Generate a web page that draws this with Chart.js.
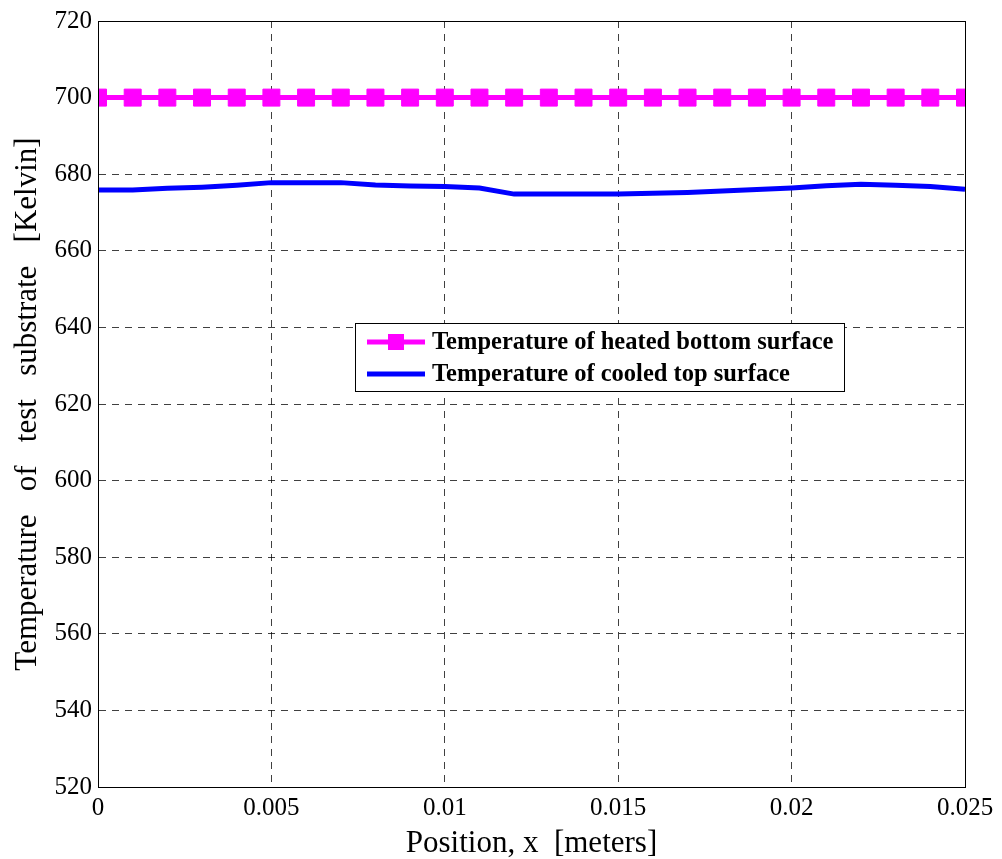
<!DOCTYPE html>
<html lang="en">

<head>
    <meta charset="UTF-8">
    <title>Temperature of test substrate</title>
    <script src="https://cdn.jsdelivr.net/npm/chart.js"></script>
</head>

<style>
    body {
        margin: 0;
        background: #fff;
    }
    #box {
        width: 1002px;
        height: 859px;
    }
</style>

<body>
    <div id="box">
        <canvas id="myChart" width="1002" height="859"></canvas>
    </div>

    <script>
        // positions along the substrate [m]
        const xPos = [0, 0.001, 0.002, 0.003, 0.004, 0.005, 0.006, 0.007, 0.008, 0.009,
            0.010, 0.011, 0.012, 0.013, 0.014, 0.015, 0.016, 0.017, 0.018, 0.019,
            0.020, 0.021, 0.022, 0.023, 0.024, 0.025];

        // temperatures [K]
        const heatedTemp = [700, 700, 700, 700, 700, 700, 700, 700, 700, 700,
            700, 700, 700, 700, 700, 700, 700, 700, 700, 700,
            700, 700, 700, 700, 700, 700];
        const cooledTemp = [675.9, 675.9, 676.3, 676.6, 677.1, 677.8, 677.8, 677.8, 677.2, 676.9,
            676.8, 676.4, 674.8, 674.8, 674.8, 674.8, 675.0, 675.2, 675.6, 676.0,
            676.4, 677.0, 677.4, 677.1, 676.8, 676.1];

        const xTickValues = [0, 0.005, 0.01, 0.015, 0.02, 0.025];
        const xTickLabels = ['0', '0.005', '0.01', '0.015', '0.02', '0.025'];
        const yTickLabels = ['520', '540', '560', '580', '600', '620', '640', '660', '680', '700', '720'];

        const seriesNames = ['Temperature of heated bottom surface', 'Temperature of cooled top surface'];

        const serif = "'Liberation Serif', 'Times New Roman', serif";

        // box around the plot + legend drawn inside the axes
        const framePlugin = {
            id: 'frame',
            afterDraw(chart) {
                const ctx = chart.ctx;
                const a = chart.chartArea;
                ctx.save();
                ctx.strokeStyle = '#000';
                ctx.lineWidth = 1;
                ctx.strokeRect(a.left + 0.5, a.top + 0.5, a.right - a.left, a.bottom - a.top);

                // legend
                const lx = 355, ly = 323, lw = 489, lh = 68;
                ctx.fillStyle = '#fff';
                ctx.fillRect(lx, ly, lw, lh);
                ctx.strokeRect(lx + 0.5, ly + 0.5, lw, lh);
                ctx.font = 'bold 24.5px ' + serif;
                ctx.textBaseline = 'middle';
                chart.data.datasets.forEach((ds, i) => {
                    const cy = ly + 19 + i * 32;
                    ctx.strokeStyle = ds.borderColor;
                    ctx.lineWidth = ds.borderWidth;
                    ctx.beginPath();
                    ctx.moveTo(367, cy);
                    ctx.lineTo(425, cy);
                    ctx.stroke();
                    if (ds.pointRadius > 0) {
                        ctx.fillStyle = ds.pointBackgroundColor;
                        ctx.fillRect(396 - 8, cy - 8, 16, 16);
                    }
                    ctx.fillStyle = '#000';
                    ctx.fillText(ds.label, 432, cy + 1);
                });
                ctx.restore();
            }
        };

        const chartCanvas = document.getElementById('myChart').getContext('2d');

        const chart = new Chart(chartCanvas, {
            type: 'line',
            data: {
                datasets: [{
                    label: seriesNames[0],
                    data: xPos.map((x, i) => ({ x: x, y: heatedTemp[i] })),
                    borderColor: '#ff00ff',
                    borderWidth: 5,
                    pointStyle: 'rect',
                    pointRadius: 12,
                    pointBackgroundColor: '#ff00ff',
                    pointBorderColor: '#ff00ff',
                    pointBorderWidth: 1,
                    tension: 0,
                }, {
                    label: seriesNames[1],
                    data: xPos.map((x, i) => ({ x: x, y: cooledTemp[i] })),
                    borderColor: '#0000ff',
                    borderWidth: 5,
                    pointRadius: 0,
                    tension: 0,
                }]
            },
            options: {
                responsive: false,
                animation: false,
                layout: {
                    padding: { top: 21, right: 37, left: 0, bottom: 0 }
                },
                plugins: {
                    legend: { display: false },
                    tooltip: { enabled: false },
                },
                scales: {
                    x: {
                        type: 'linear',
                        min: 0,
                        max: 0.025,
                        afterBuildTicks: (scale) => {
                            scale.ticks = xTickValues.map(v => ({ value: v }));
                        },
                        afterFit: (scale) => { scale.height = 72; },
                        ticks: {
                            callback: (value, index) => xTickLabels[index],
                            font: { family: serif, size: 25 },
                            color: '#000',
                            padding: 6,
                            maxRotation: 0,
                        },
                        grid: {
                            color: 'rgba(0,0,0,0.75)',
                            drawTicks: false,
                        },
                        border: { color: '#000', dash: [7, 6], display: true },
                        title: {
                            display: true,
                            text: 'Position, x  [meters]',
                            font: { family: serif, size: 31, lineHeight: 1 },
                            color: '#000',
                            padding: { top: 0, bottom: 0 },
                        }
                    },
                    y: {
                        min: 520,
                        max: 720,
                        ticks: {
                            stepSize: 20,
                            callback: (value, index) => yTickLabels[index],
                            font: { family: serif, size: 25 },
                            color: '#000',
                            padding: 6,
                        },
                        afterFit: (scale) => { scale.width = 98; },
                        grid: {
                            color: 'rgba(0,0,0,0.75)',
                            drawTicks: false,
                        },
                        border: { color: '#000', dash: [7, 6], display: true },
                        title: {
                            display: true,
                            text: 'Temperature   of   test   substrate   [Kelvin]',
                            font: { family: serif, size: 31, lineHeight: 1 },
                            color: '#000',
                            padding: { top: 12, bottom: 0 },
                        }
                    }
                }
            },
            plugins: [framePlugin]
        });
    </script>
</body>

</html>
